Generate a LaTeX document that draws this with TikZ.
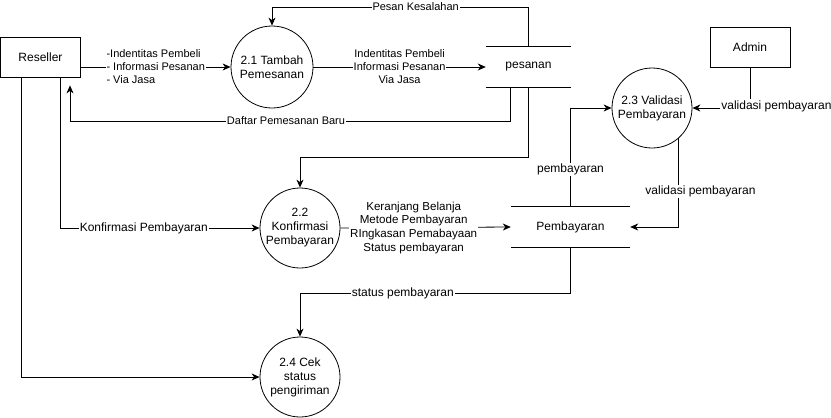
\documentclass[tikz,border=0pt]{standalone}
\usepackage{fontspec}
\setmainfont{Liberation Sans}
\usetikzlibrary{arrows.meta,calc}
\begin{document}
\begin{tikzpicture}[x=1pt,y=-1pt,
  every node/.style={font=\fontsize{12}{14}\selectfont},
  proc/.style={circle,draw,line width=0.8pt,minimum size=80pt,inner sep=0pt,align=center},
  ent/.style={draw,line width=0.8pt,minimum width=80pt,minimum height=40pt,inner sep=0pt},
  store/.style={minimum height=40pt,inner sep=0pt},
  storeline/.style={line width=0.8pt},
  flow/.style={line width=0.8pt,-{Stealth[length=8pt,width=7pt,inset=2.5pt]}},
  lbl/.style={fill=white,inner sep=1pt,font=\fontsize{11}{13}\selectfont,align=center},
  lblb/.style={fill=white,inner sep=1pt,font=\fontsize{12}{13.7}\selectfont,align=center}]
\useasboundingbox (0,0) rectangle (831,418);
% entities
\node[ent] (reseller) at (40.5,57) {Reseller};
\node[ent] (admin) at (750,47) {Admin};
% processes
\node[proc,minimum size=82pt] (v21) at (272,67) {2.1 Tambah\\Pemesanan};
\node[proc] (v22) at (300,228) {2.2\\Konfirmasi\\Pembayaran};
\node[proc] (v23) at (652,108) {2.3 Validasi\\Pembayaran};
\node[proc] (v24) at (300,377) {2.4 Cek\\status\\pengiriman};
% stores
\node[store,minimum width=85pt] (pesanan) at (528.5,67) {pesanan};
\node[store,minimum width=119pt] (pemb) at (570.5,227) {Pembayaran};
\draw[storeline] (pesanan.north west) -- (pesanan.north east)
                 (pesanan.south west) -- (pesanan.south east);
\draw[storeline] (pemb.north west) -- (pemb.north east)
                 (pemb.south west) -- (pemb.south east);
% bend coordinates
\coordinate (pk) at (528.5,7);
\coordinate (dp) at (70,121);
\coordinate (kp) at (528.5,157);
\coordinate (sp) at (570.5,293);
% flows
\draw[flow] (reseller.east |- v21.west) -- (v21.west)
  node[lbl,pos=0.5,align=left] {-Indentitas Pembeli\\- Informasi Pesanan\\- Via Jasa};
\draw[flow] (v21.east) -- (pesanan.west)
  node[lbl,pos=0.5] {Indentitas Pembeli\\Informasi Pesanan\\Via Jasa};
\draw[flow] (pesanan.north) -- (pk) -| (v21.north)
  node[lbl,pos=0.22] {Pesan Kesalahan};
\draw[flow] ([xshift=-18.5pt]pesanan.south) |- (dp) -- ([xshift=29.5pt,yshift=-8pt]reseller.south);
\node[lbl] (dpl) at (286,121) {Daftar Pemesanan Baru};
\draw[flow] (pesanan.south) -- (kp) -| (v22.north);
\draw[flow] ([xshift=19.5pt]reseller.south) |- (v22.west)
  node[lblb,pos=0.71] {Konfirmasi Pembayaran};
\draw[flow] (v22.east) -- (pemb.west)
  node[lblb,pos=0.43,font=\fontsize{11.6}{13.7}\selectfont] {Keranjang Belanja\\Metode Pembayaran\\RIngkasan Pemabayaan\\Status pembayaran};
\draw[flow] (pemb.north) |- (v23.west)
  node[lblb,pos=0.19] {pembayaran};
\draw[flow] (admin.south) |- (v23.east)
  node[lblb,pos=0.5,anchor=west,xshift=-30pt,yshift=2pt] {validasi pembayaran};
\draw[flow] (v23.-49.5) |- (pemb.east)
  node[lblb,pos=0.3,xshift=22pt] {validasi pembayaran};
\draw[flow] (pemb.south) -- (sp) -| (v24.north)
  node[lblb,pos=0.31] {status pembayaran};
\draw[flow] ([xshift=-19.5pt]reseller.south) |- (v24.west);
\end{tikzpicture}
\end{document}
